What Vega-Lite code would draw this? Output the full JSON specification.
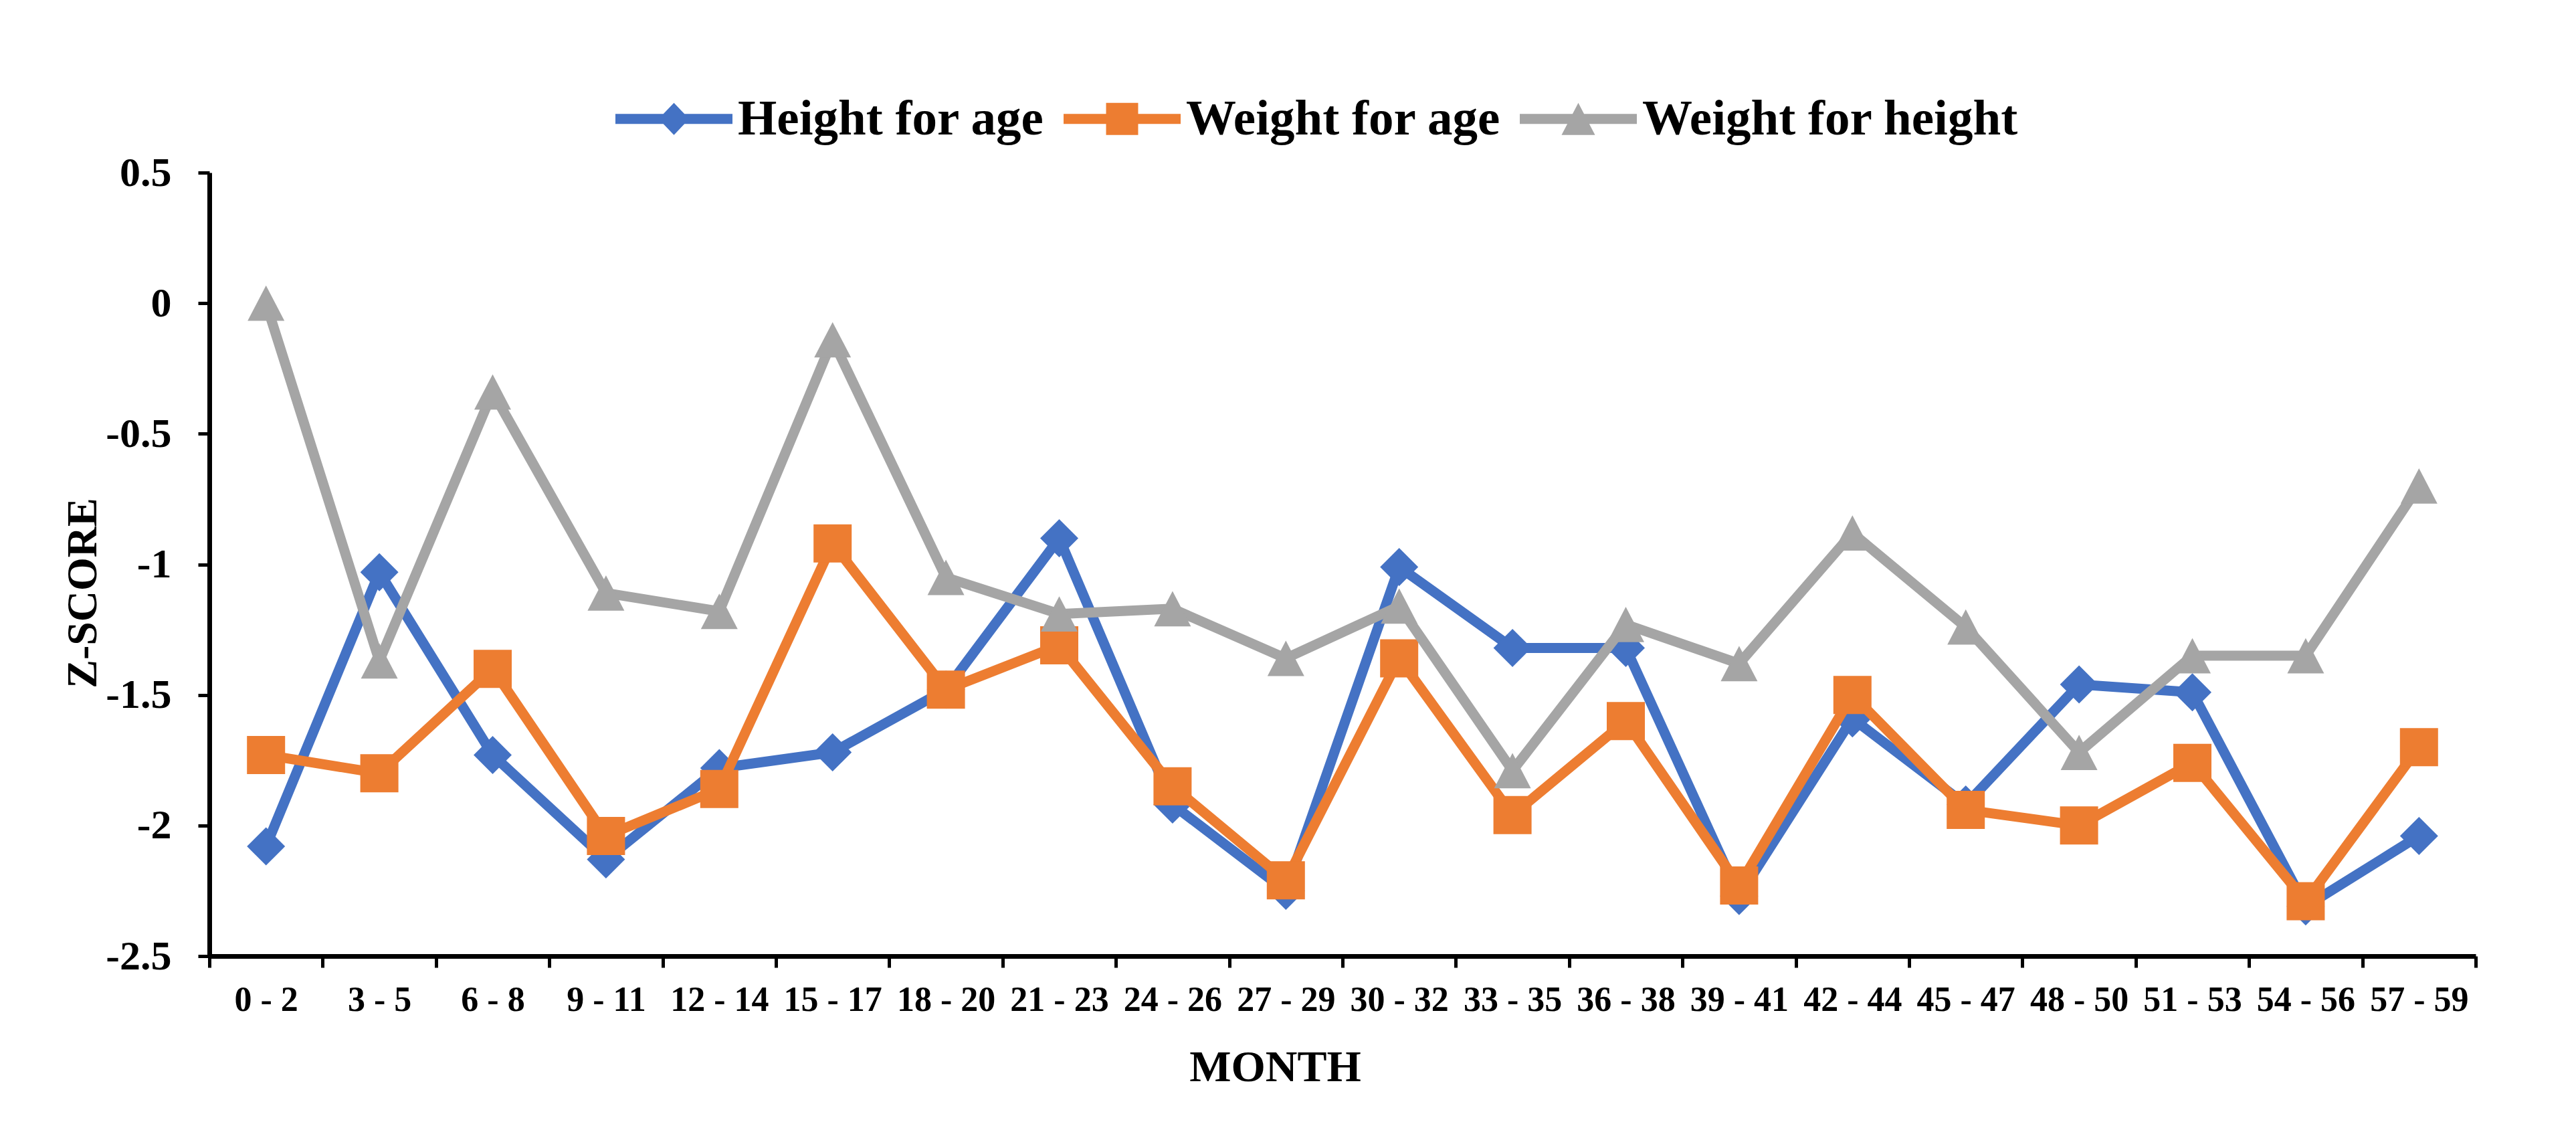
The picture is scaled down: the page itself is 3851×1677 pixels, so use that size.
{
  "$schema": "https://vega.github.io/schema/vega-lite/v6.json",
  "width": 3388,
  "height": 1171,
  "autosize": {"type": "none"},
  "padding": {"left": 313, "top": 258, "right": 150, "bottom": 248},
  "background": "white",
  "config": {
    "view": {"stroke": null},
    "font": "Liberation Serif"
  },
  "datasets": {
    "z": [
      {"month": "0 - 2", "series": "Height for age", "z": -2.08},
      {"month": "3 - 5", "series": "Height for age", "z": -1.03},
      {"month": "6 - 8", "series": "Height for age", "z": -1.73},
      {"month": "9 - 11", "series": "Height for age", "z": -2.13},
      {"month": "12 - 14", "series": "Height for age", "z": -1.78},
      {"month": "15 - 17", "series": "Height for age", "z": -1.72},
      {"month": "18 - 20", "series": "Height for age", "z": -1.48},
      {"month": "21 - 23", "series": "Height for age", "z": -0.90},
      {"month": "24 - 26", "series": "Height for age", "z": -1.92},
      {"month": "27 - 29", "series": "Height for age", "z": -2.25},
      {"month": "30 - 32", "series": "Height for age", "z": -1.01},
      {"month": "33 - 35", "series": "Height for age", "z": -1.32},
      {"month": "36 - 38", "series": "Height for age", "z": -1.32},
      {"month": "39 - 41", "series": "Height for age", "z": -2.27},
      {"month": "42 - 44", "series": "Height for age", "z": -1.59},
      {"month": "45 - 47", "series": "Height for age", "z": -1.92},
      {"month": "48 - 50", "series": "Height for age", "z": -1.46},
      {"month": "51 - 53", "series": "Height for age", "z": -1.49},
      {"month": "54 - 56", "series": "Height for age", "z": -2.31},
      {"month": "57 - 59", "series": "Height for age", "z": -2.04},
      {"month": "0 - 2", "series": "Weight for age", "z": -1.73},
      {"month": "3 - 5", "series": "Weight for age", "z": -1.80},
      {"month": "6 - 8", "series": "Weight for age", "z": -1.40},
      {"month": "9 - 11", "series": "Weight for age", "z": -2.04},
      {"month": "12 - 14", "series": "Weight for age", "z": -1.86},
      {"month": "15 - 17", "series": "Weight for age", "z": -0.92},
      {"month": "18 - 20", "series": "Weight for age", "z": -1.48},
      {"month": "21 - 23", "series": "Weight for age", "z": -1.31},
      {"month": "24 - 26", "series": "Weight for age", "z": -1.85},
      {"month": "27 - 29", "series": "Weight for age", "z": -2.21},
      {"month": "30 - 32", "series": "Weight for age", "z": -1.36},
      {"month": "33 - 35", "series": "Weight for age", "z": -1.96},
      {"month": "36 - 38", "series": "Weight for age", "z": -1.60},
      {"month": "39 - 41", "series": "Weight for age", "z": -2.23},
      {"month": "42 - 44", "series": "Weight for age", "z": -1.50},
      {"month": "45 - 47", "series": "Weight for age", "z": -1.94},
      {"month": "48 - 50", "series": "Weight for age", "z": -2.00},
      {"month": "51 - 53", "series": "Weight for age", "z": -1.76},
      {"month": "54 - 56", "series": "Weight for age", "z": -2.29},
      {"month": "57 - 59", "series": "Weight for age", "z": -1.70},
      {"month": "0 - 2", "series": "Weight for height", "z": 0.00},
      {"month": "3 - 5", "series": "Weight for height", "z": -1.37},
      {"month": "6 - 8", "series": "Weight for height", "z": -0.34},
      {"month": "9 - 11", "series": "Weight for height", "z": -1.11},
      {"month": "12 - 14", "series": "Weight for height", "z": -1.18},
      {"month": "15 - 17", "series": "Weight for height", "z": -0.14},
      {"month": "18 - 20", "series": "Weight for height", "z": -1.05},
      {"month": "21 - 23", "series": "Weight for height", "z": -1.19},
      {"month": "24 - 26", "series": "Weight for height", "z": -1.17},
      {"month": "27 - 29", "series": "Weight for height", "z": -1.36},
      {"month": "30 - 32", "series": "Weight for height", "z": -1.16},
      {"month": "33 - 35", "series": "Weight for height", "z": -1.79},
      {"month": "36 - 38", "series": "Weight for height", "z": -1.23},
      {"month": "39 - 41", "series": "Weight for height", "z": -1.38},
      {"month": "42 - 44", "series": "Weight for height", "z": -0.88},
      {"month": "45 - 47", "series": "Weight for height", "z": -1.24},
      {"month": "48 - 50", "series": "Weight for height", "z": -1.72},
      {"month": "51 - 53", "series": "Weight for height", "z": -1.35},
      {"month": "54 - 56", "series": "Weight for height", "z": -1.35},
      {"month": "57 - 59", "series": "Weight for height", "z": -0.70}
    ]
  },
  "data": {"name": "z"},
  "encoding": {
    "x": {
      "field": "month",
      "type": "nominal",
      "sort": null,
      "scale": {"type": "band", "paddingInner": 0, "paddingOuter": 0},
      "axis": {
        "title": "MONTH",
        "titleFont": "Liberation Serif",
        "titleFontSize": 66,
        "titleFontWeight": "bold",
        "titleColor": "black",
        "titleX": 1593,
        "titleY": 134,
        "labelAngle": 0,
        "labelFont": "Liberation Serif",
        "labelFontSize": 52,
        "labelFontWeight": "bold",
        "labelColor": "black",
        "labelPadding": 23,
        "labelOverlap": false,
        "labelLimit": 0,
        "labelBound": false,
        "tickBand": "extent",
        "tickSize": 17,
        "tickWidth": 5,
        "tickColor": "black",
        "domainWidth": 7,
        "domainColor": "black",
        "grid": false
      }
    },
    "y": {
      "field": "z",
      "type": "quantitative",
      "scale": {"domain": [-2.5, 0.5], "nice": false, "zero": false},
      "axis": {
        "title": "Z-SCORE",
        "titleFont": "Liberation Serif",
        "titleFontSize": 64,
        "titleFontWeight": "bold",
        "titleColor": "black",
        "titleX": -157,
        "titleY": 628,
        "values": [-2.5, -2, -1.5, -1, -0.5, 0, 0.5],
        "labelExpr": "datum.value === 0 ? '0' : (datum.value < 0 ? '-' : '') + format(abs(datum.value), '~g')",
        "labelFont": "Liberation Serif",
        "labelFontSize": 62,
        "labelFontWeight": "bold",
        "labelColor": "black",
        "labelPadding": 40,
        "labelBound": false,
        "labelFlush": false,
        "tickSize": 17,
        "tickWidth": 5,
        "tickColor": "black",
        "domainWidth": 7,
        "domainColor": "black",
        "grid": false
      }
    },
    "color": {
      "field": "series",
      "type": "nominal",
      "scale": {
        "domain": ["Height for age", "Weight for age", "Weight for height"],
        "range": ["#4472C4", "#ED7D31", "#A5A5A5"]
      },
      "legend": {
        "orient": "none",
        "legendX": 607,
        "legendY": -168,
        "direction": "horizontal",
        "title": null,
        "padding": 0,
        "labelFont": "Liberation Serif",
        "labelFontSize": 75,
        "labelFontWeight": "bold",
        "labelColor": "black",
        "labelOffset": 8,
        "labelLimit": 0,
        "columnPadding": 28,
        "symbolSize": 30625,
        "symbolStrokeWidth": 0,
        "encode": {
          "symbols": {
            "update": {
              "shape": {"signal": "datum.value === 'Height for age' ? 'M-1,-0.086H1V0.086H-1Z M0,-0.274L0.263,0L0,0.274L-0.263,0Z' : datum.value === 'Weight for age' ? 'M-1,-0.086H1V0.086H-1Z M-0.274,-0.274H0.274V0.274H-0.274Z' : 'M-1,-0.086H1V0.086H-1Z M0,-0.274L0.286,0.274L-0.286,0.274Z'"},
              "fill": {"scale": "color", "field": "value"},
              "fillOpacity": {"value": 1},
              "opacity": {"value": 1},
              "strokeWidth": {"value": 0},
              "size": {"value": 30625}
            }
          }
        }
      }
    }
  },
  "layer": [
    {
      "transform": [{"filter": "datum.series === 'Height for age'"}],
      "mark": {"type": "line", "strokeWidth": 15, "strokeJoin": "round"}
    },
    {
      "transform": [{"filter": "datum.series === 'Height for age'"}],
      "mark": {"type": "point", "filled": true, "shape": "diamond", "size": 3249, "opacity": 1, "strokeWidth": 0}
    },
    {
      "transform": [{"filter": "datum.series === 'Weight for age'"}],
      "mark": {"type": "line", "strokeWidth": 15, "strokeJoin": "round"}
    },
    {
      "transform": [{"filter": "datum.series === 'Weight for age'"}],
      "mark": {"type": "point", "filled": true, "shape": "square", "size": 3249, "opacity": 1, "strokeWidth": 0}
    },
    {
      "transform": [{"filter": "datum.series === 'Weight for height'"}],
      "mark": {"type": "line", "strokeWidth": 15, "strokeJoin": "round"}
    },
    {
      "transform": [{"filter": "datum.series === 'Weight for height'"}],
      "mark": {"type": "point", "filled": true, "shape": "M0,-0.96L1,0.96L-1,0.96Z", "size": 3025, "opacity": 1, "strokeWidth": 0}
    }
  ]
}
